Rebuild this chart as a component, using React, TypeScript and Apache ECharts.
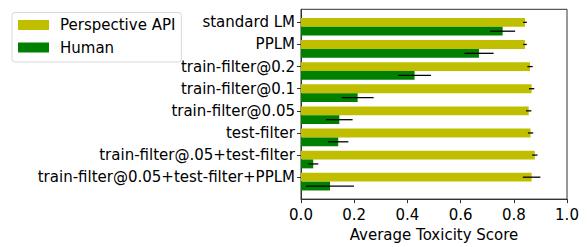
import React, { useEffect, useRef } from "react";
import * as echarts from "echarts";

const categories = [
  "standard LM",
  "PPLM",
  "train-filter@0.2",
  "train-filter@0.1",
  "train-filter@0.05",
  "test-filter",
  "train-filter@.05+test-filter",
  "train-filter@0.05+test-filter+PPLM",
];
const perspective = [0.842, 0.842, 0.861, 0.867, 0.856, 0.863, 0.879, 0.867];
const perspectiveErr = [0.007, 0.007, 0.01, 0.01, 0.01, 0.01, 0.01, 0.033];
const human = [0.758, 0.669, 0.427, 0.213, 0.144, 0.14, 0.046, 0.109];
const humanErr = [0.047, 0.055, 0.062, 0.06, 0.05, 0.038, 0.019, 0.09];
const xTicks = [0, 0.2, 0.4, 0.6, 0.8, 1.0];

const YELLOW = "#bfbf00";
const GREEN = "#008000";
const FONT = "DejaVu Sans";
const FS = 15;

export default function App() {
  const ref = useRef<HTMLDivElement>(null);
  useEffect(() => {
    if (!ref.current) return;
    const chart = echarts.init(ref.current, null, { renderer: "svg" });
    const idx = categories.map((_, i) => i);

    const barRender = (offset: number, color: string) => (params: any, api: any) => {
      const v = api.value(0);
      const i = api.value(1);
      const p0 = api.coord([0, i + offset - 0.2]);
      const p1 = api.coord([v, i + offset + 0.2]);
      return {
        type: "rect",
        shape: { x: p0[0], y: p0[1], width: p1[0] - p0[0], height: p1[1] - p0[1] },
        style: { fill: color },
      };
    };
    const errRender = (offset: number) => (params: any, api: any) => {
      const v = api.value(0);
      const i = api.value(1);
      const e = api.value(2);
      const a = api.coord([v - e, i + offset]);
      const b = api.coord([v + e, i + offset]);
      return {
        type: "line",
        shape: { x1: a[0], y1: a[1], x2: b[0], y2: b[1] },
        style: { stroke: "#000", lineWidth: 1.3 },
      };
    };

    chart.setOption({
      animation: false,
      textStyle: { fontFamily: FONT },
      grid: {
        left: 301,
        top: 9.3,
        width: 266,
        height: 198.6,
        show: true,
        borderColor: "#333",
        borderWidth: 1,
        backgroundColor: "transparent",
      },
      legend: {
        left: 12,
        top: 12.5,
        orient: "vertical",
        data: [
          { name: "Perspective API", icon: "rect", itemStyle: { color: YELLOW, borderWidth: 0 } },
          { name: "Human", icon: "rect", itemStyle: { color: GREEN, borderWidth: 0 } },
        ],
        itemWidth: 31,
        itemHeight: 10,
        itemGap: 5.5,
        padding: [4, 6, 6, 6],
        borderColor: "#d8d8d8",
        borderWidth: 1,
        borderRadius: 3,
        lineStyle: { width: 0, opacity: 0 },
        textStyle: { fontFamily: FONT, fontSize: FS, color: "#000", lineHeight: 17, padding: [0, 0, 0, 6] },
        selectedMode: false,
      },
      xAxis: {
        type: "value",
        min: 0,
        max: 1,
        interval: 0.2,
        name: "Average Toxicity Score",
        nameLocation: "middle",
        nameGap: 23,
        nameTextStyle: { fontFamily: FONT, fontSize: FS, color: "#000" },
        axisLine: { show: true, onZero: false, lineStyle: { color: "#333", width: 1 } },
        axisTick: { show: true, length: 4, lineStyle: { color: "#333" } },
        axisLabel: {
          fontFamily: FONT,
          fontSize: FS,
          color: "#000",
          margin: 8,
          customValues: xTicks,
          formatter: (v: number) => v.toFixed(1),
        },
        splitLine: { show: false },
      },
      yAxis: {
        type: "value",
        inverse: true,
        min: -0.59,
        max: 7.99,
        axisLine: { show: true, onZero: false, lineStyle: { color: "#333", width: 1 } },
        axisTick: { show: true, length: 4, lineStyle: { color: "#333" }, customValues: idx },
        axisLabel: {
          fontFamily: FONT,
          fontSize: FS,
          color: "#000",
          margin: 6,
          customValues: idx,
          formatter: (v: number) => categories[Math.round(v)] ?? "",
        },
        splitLine: { show: false },
      },
      series: [
        {
          name: "Perspective API",
          type: "custom",
          itemStyle: { color: YELLOW },
          renderItem: barRender(0, YELLOW),
          data: perspective.map((v, i) => [v, i]),
          z: 2,
        },
        {
          name: "Human",
          type: "custom",
          itemStyle: { color: GREEN },
          renderItem: barRender(0.4, GREEN),
          data: human.map((v, i) => [v, i]),
          z: 2,
        },
        {
          name: "pErr",
          type: "custom",
          renderItem: errRender(0),
          data: perspective.map((v, i) => [v, i, perspectiveErr[i]]),
          z: 3,
        },
        {
          name: "hErr",
          type: "custom",
          renderItem: errRender(0.4),
          data: human.map((v, i) => [v, i, humanErr[i]]),
          z: 3,
        },
      ],
    });
    return () => chart.dispose();
  }, []);
  return (
    <div
      ref={ref}
      style={{ position: "fixed", left: 0, top: 0, width: 587, height: 247, background: "#fff" }}
    />
  );
}
